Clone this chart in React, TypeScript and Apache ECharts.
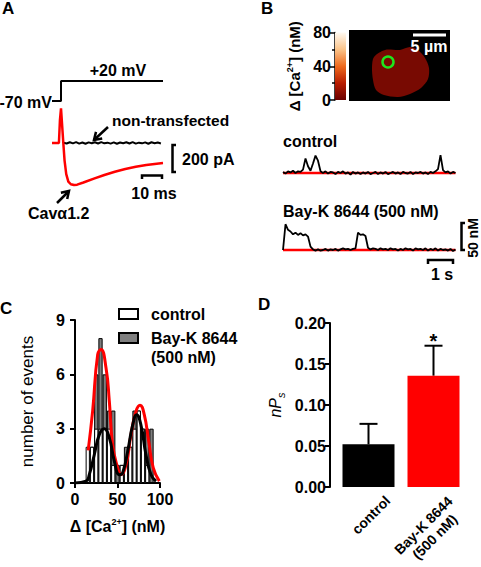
import React, { useEffect, useRef } from 'react';
import * as echarts from 'echarts';

const FONT = 'Liberation Sans';

// ---------- Panel A : voltage step and currents ----------
const voltTimes = [0, 4.3, 4.3, 53];
const voltValues = [-70, -70, 20, 20];
const cavTimes = [0, 3.3, 3.8, 4.3, 4.8, 5.4, 6.0, 6.8, 7.8, 9.0, 10.5, 12, 15, 20, 25, 30, 35, 40, 45, 50, 53];
const cavCurrent = [0, 0, 170, 255, 140, 0, -130, -230, -285, -305, -311, -308, -292, -263, -237, -213, -193, -176, -163, -153, -148];
const nonTransTimes = [5.5, 7, 8.5, 10, 11.5, 13, 14.5, 16, 17.5, 19, 20.5, 22, 23.5, 25, 26.5, 28, 29.5, 31, 32.5, 34, 35.5, 37, 38.5, 40, 41.5, 43, 44.5, 46, 47.5, 49, 50.5, 52];
const nonTransCurrent = [2, -4, 5, -3, 6, -5, 3, -6, 4, -2, 5, -4, 6, -3, 2, -5, 4, -6, 3, -2, 5, -4, 6, -5, 2, -3, 4, -6, 5, -2, 3, -4];

// ---------- Panel B : Ca2+ traces (nM), 0.1 s sampling ----------
const traceStep = 0.1;
const controlTrace = [2, -1, 3, 1, 4, 0, 3, 2, 6, 26, 12, 4, 17, 31, 22, 3, 0, 3, -1, 2, 1, -2, 2, 0, 3, -1, 1, -3, 2, -1, 1, -2, 1, -1, 2, -2, 0, 2, -2, 1, -1, 2, -2, 0, 2, -1, 1, -2, 2, 0, -1, 2, -2, 1, 0, 2, -1, 1, -2, 2, 0, 3, 7, 32, 5, 1, 3, -1, 2, 0];
const baykTrace = [0, 46, 36, 33, 28, 31, 27, 30, 26, 28, 24, 6, 1, -1, 1, -1, 0, 2, -1, 1, 0, 2, -1, 1, 3, 1, 2, 0, 2, 3, 31, 27, 28, 25, 4, 1, 3, 2, 0, 3, 1, 2, 0, 3, 1, 2, -1, 2, 0, 3, 1, 2, -1, 3, 1, 2, 0, 3, -1, 2, 0, 3, -1, 2, 0, 1, -1, 2, -2, 1];
const colorbarMax = 80;

// ---------- Panel C : amplitude histogram ----------
const binCenters = [15, 20, 25, 30, 35, 40, 45, 50, 55, 60, 65, 70, 75, 80, 85, 90, 95];
const controlCounts = [2, 2, 3, 3, 3, 3, 1, 0, 1, 1, 2, 3, 4, 3, 1, 0, 0];
const baykCounts = [0, 2, 6, 8, 6, 4, 4, 1, 1, 2, 2, 4, 4, 3, 3, 3, 0];
const baykFitX = [15.5, 20.8, 26.7, 30.6, 36.5, 40.4, 44.3, 50.2, 54.1, 60, 65.9, 71.8, 76.5, 81.5, 86.7, 92.1, 99.2];
const baykFitY = [1.8, 4.0, 7.1, 7.37, 6.35, 4.5, 2.1, 0.83, 0.46, 1.0, 2.67, 3.96, 4.29, 3.77, 2.3, 0.83, 0.1];
const controlFitX = [0, 13, 16.8, 22.7, 28.6, 34.5, 40.4, 46.3, 52.2, 56, 62, 67.8, 72.5, 77.6, 83.5, 89.4, 95.3];
const controlFitY = [0, 0.1, 0.46, 1.56, 2.67, 3.0, 2.49, 1.2, 0.46, 0.55, 1.75, 3.2, 3.77, 3.2, 1.56, 0.46, 0.1];

// ---------- Panel D : nPs ----------
const groups = ['control', 'Bay-K 8644\n(500 nM)'];
const nPsMean = [0.052, 0.1357];
const nPsSem = [0.025, 0.0366];
const significance = ['', '*'];
const barColors = ['#000000', '#ff0000'];

const txt = (text: string, x: number, y: number, extra: any = {}) => ({
  type: 'text',
  x,
  y,
  rotation: extra.rotation || 0,
  style: {
    text,
    fill: extra.fill || '#000',
    fontFamily: FONT,
    fontSize: extra.fontSize || 16,
    fontWeight: extra.fontWeight || 'bold',
    align: extra.align || 'left',
    verticalAlign: 'middle',
    lineHeight: extra.lineHeight,
  },
});

const pl = (points: number[][], stroke = '#000', lineWidth = 2) => ({
  type: 'polyline',
  shape: { points },
  style: { stroke, lineWidth, fill: 'none' },
});

const App: React.FC = () => {
  const ref = useRef<HTMLDivElement>(null);

  useEffect(() => {
    if (!ref.current) return;
    const chart = echarts.init(ref.current, undefined, { renderer: 'svg' });

    const hidden = (gridIndex: number, min: number, max: number) => ({
      gridIndex, type: 'value', min, max, show: false,
    });
    const axisLineStyle = { show: true, lineStyle: { color: '#000', width: 2 } };
    const tickStyle = { show: true, length: 5, lineStyle: { color: '#000', width: 2 } };
    const labelStyle = { color: '#000', fontFamily: FONT, fontWeight: 'bold', fontSize: 16 };
    const supRich = {
      sup: { fontSize: 9, fontWeight: 'bold', fontFamily: FONT, verticalAlign: 'top', lineHeight: 18, color: '#000' },
    };

    const option: any = {
      animation: false,
      backgroundColor: '#fff',
      textStyle: { fontFamily: FONT },
      grid: [
        { left: 52, top: 81, width: 111, height: 20 },
        { left: 52, top: 105, width: 111, height: 84 },
        { left: 335, top: 32.5, width: 11, height: 67.5 },
        { left: 283, top: 150, width: 173, height: 30 },
        { left: 283, top: 220, width: 173, height: 37 },
        { left: 75, top: 320, width: 85, height: 163 },
        { left: 336, top: 323, width: 130, height: 164 },
      ],
      xAxis: [
        hidden(0, 0, 53),
        hidden(1, 0, 53),
        { gridIndex: 2, type: 'category', data: ['scale'], show: false },
        hidden(3, 0, 6.92),
        hidden(4, 0, 6.92),
        {
          gridIndex: 5, type: 'value', min: 0, max: 100, interval: 50,
          axisLine: axisLineStyle, axisTick: tickStyle, splitLine: { show: false },
          axisLabel: { ...labelStyle, margin: 8 },
          name: 'Δ [Ca{sup|2+}] (nM)', nameLocation: 'middle', nameGap: 34,
          nameTextStyle: { ...labelStyle, rich: supRich },
        },
        {
          gridIndex: 6, type: 'category', data: groups,
          axisLine: { show: false }, axisTick: { show: false }, axisLabel: { show: false },
        },
      ],
      yAxis: [
        hidden(0, -70, 20),
        hidden(1, -340, 280),
        {
          gridIndex: 2, type: 'value', min: 0, max: colorbarMax, interval: 40,
          axisLine: { show: true, lineStyle: { color: '#000', width: 1.5 } },
          axisTick: { show: true, length: 5, lineStyle: { color: '#000', width: 1.5 } },
          minorTick: { show: true, splitNumber: 2, length: 3, lineStyle: { color: '#000', width: 1.5 } },
          splitLine: { show: false },
          axisLabel: { ...labelStyle, margin: 4 },
          name: 'Δ [Ca{sup|2+}] (nM)', nameLocation: 'middle', nameRotate: 90, nameGap: 32,
          nameTextStyle: { ...labelStyle, fontSize: 15, rich: supRich },
        },
        hidden(3, -12.5, 41.07),
        hidden(4, -12.5, 53.57),
        {
          gridIndex: 5, type: 'value', min: 0, max: 9, interval: 3, offset: 7,
          axisLine: axisLineStyle, axisTick: tickStyle, splitLine: { show: false },
          axisLabel: { ...labelStyle, margin: 3 },
          name: 'number of events', nameLocation: 'middle', nameRotate: 90, nameGap: 32,
          nameTextStyle: { color: '#000', fontFamily: FONT, fontSize: 17 },
        },
        {
          gridIndex: 6, type: 'value', min: 0, max: 0.2, interval: 0.05, offset: 6,
          axisLine: axisLineStyle, axisTick: tickStyle, splitLine: { show: false },
          axisLabel: { ...labelStyle, margin: 4, formatter: (v: number) => v.toFixed(2) },
          name: '{i|nP}{s|s}', nameLocation: 'middle', nameRotate: 90, nameGap: 44,
          nameTextStyle: {
            rich: {
              i: { fontStyle: 'italic', fontSize: 16, fontFamily: FONT, lineHeight: 16, color: '#000' },
              s: { fontStyle: 'italic', fontSize: 11, fontFamily: FONT, verticalAlign: 'bottom', lineHeight: 22, color: '#000' },
            },
          },
        },
      ],
      legend: [
        {
          left: 118, top: 304.5, padding: 0, orient: 'vertical', icon: 'rect',
          itemWidth: 19, itemHeight: 10, data: ['control'],
          itemStyle: { borderColor: '#000', borderWidth: 2 },
          textStyle: { ...labelStyle, lineHeight: 19, padding: [0, 0, 0, 8] },
        },
        {
          left: 118, top: 309.5, padding: 0, orient: 'vertical', icon: 'rect',
          itemWidth: 19, itemHeight: 10, data: ['Bay-K 8644 (500 nM)'],
          itemStyle: { borderColor: '#000', borderWidth: 2 },
          formatter: () => ' \nBay-K 8644\n(500 nM)',
          textStyle: { ...labelStyle, lineHeight: 19, padding: [0, 0, 0, 8] },
        },
      ],
      series: [
        // Panel A
        {
          type: 'line', xAxisIndex: 0, yAxisIndex: 0, showSymbol: false, silent: true,
          data: voltTimes.map((t, i) => [t, voltValues[i]]),
          lineStyle: { color: '#000', width: 2 },
        },
        {
          type: 'line', name: 'non-transfected', xAxisIndex: 1, yAxisIndex: 1, showSymbol: false,
          data: nonTransTimes.map((t, i) => [t, nonTransCurrent[i]]),
          lineStyle: { color: '#000', width: 2 },
        },
        {
          type: 'line', name: 'Cavα1.2', xAxisIndex: 1, yAxisIndex: 1, showSymbol: false,
          data: cavTimes.map((t, i) => [t, cavCurrent[i]]),
          lineStyle: { color: '#ff0000', width: 2.5 },
        },
        // Panel B colorbar
        {
          type: 'bar', xAxisIndex: 2, yAxisIndex: 2, barWidth: '100%', data: [colorbarMax],
          itemStyle: {
            color: new echarts.graphic.LinearGradient(0, 0, 0, 1, [
              { offset: 0, color: '#fffaf2' },
              { offset: 0.25, color: '#fbc48a' },
              { offset: 0.5, color: '#ee6a1e' },
              { offset: 0.75, color: '#b81c00' },
              { offset: 1, color: '#6a0000' },
            ]),
          },
        },
        // Panel B traces
        {
          type: 'line', xAxisIndex: 3, yAxisIndex: 3, showSymbol: false,
          data: [[0, 0], [(controlTrace.length - 1) * traceStep, 0]],
          lineStyle: { color: '#ff0000', width: 2.5 },
        },
        {
          type: 'line', name: 'control trace', xAxisIndex: 3, yAxisIndex: 3, showSymbol: false,
          data: controlTrace.map((v, i) => [i * traceStep, v]),
          lineStyle: { color: '#000', width: 1.8 },
        },
        {
          type: 'line', xAxisIndex: 4, yAxisIndex: 4, showSymbol: false,
          data: [[0, 0], [(baykTrace.length - 1) * traceStep, 0]],
          lineStyle: { color: '#ff0000', width: 2.5 },
        },
        {
          type: 'line', name: 'Bay-K trace', xAxisIndex: 4, yAxisIndex: 4, showSymbol: false,
          data: baykTrace.map((v, i) => [i * traceStep, v]),
          lineStyle: { color: '#000', width: 1.8 },
        },
        // Panel C
        {
          type: 'bar', name: 'Bay-K 8644 (500 nM)', xAxisIndex: 5, yAxisIndex: 5,
          barWidth: 4.25, barGap: '-100%',
          data: binCenters.map((c, i) => [c, baykCounts[i]]),
          itemStyle: { color: '#7f7f7f', borderColor: '#000', borderWidth: 1 },
        },
        {
          type: 'bar', name: 'control', xAxisIndex: 5, yAxisIndex: 5,
          barWidth: 4.25, barGap: '-100%',
          data: binCenters.map((c, i) => [c, controlCounts[i]]),
          itemStyle: { color: '#ffffff', borderColor: '#000', borderWidth: 1 },
        },
        {
          type: 'line', name: 'Bay-K fit', xAxisIndex: 5, yAxisIndex: 5, showSymbol: false, smooth: true,
          data: baykFitX.map((x, i) => [x, baykFitY[i]]),
          lineStyle: { color: '#ff0000', width: 3 },
        },
        {
          type: 'line', name: 'control fit', xAxisIndex: 5, yAxisIndex: 5, showSymbol: false, smooth: true,
          data: controlFitX.map((x, i) => [x, controlFitY[i]]),
          lineStyle: { color: '#000', width: 3 },
        },
        // Panel D
        {
          type: 'bar', xAxisIndex: 6, yAxisIndex: 6, barWidth: 52,
          data: nPsMean.map((m, i) => ({ value: m, itemStyle: { color: barColors[i] } })),
        },
        {
          type: 'custom', xAxisIndex: 6, yAxisIndex: 6,
          data: nPsMean.map((m, i) => [i, m, nPsSem[i]]),
          encode: { x: 0, y: 1 },
          renderItem: (params: any, api: any) => {
            const idx = api.value(0);
            const m = api.value(1);
            const e = api.value(2);
            const base = api.coord([idx, m]);
            const top = api.coord([idx, m + e]);
            const hw = 9;
            const children: any[] = [
              { type: 'line', shape: { x1: base[0], y1: base[1], x2: top[0], y2: top[1] }, style: { stroke: '#000', lineWidth: 2 } },
              { type: 'line', shape: { x1: top[0] - hw, y1: top[1], x2: top[0] + hw, y2: top[1] }, style: { stroke: '#000', lineWidth: 2 } },
            ];
            const sig = significance[params.dataIndex];
            if (sig) {
              children.push({
                type: 'text', x: top[0], y: top[1] + 5,
                style: { text: sig, fill: '#000', fontFamily: FONT, fontSize: 20, fontWeight: 'bold', align: 'center', verticalAlign: 'bottom' },
              });
            }
            return { type: 'group', children };
          },
        },
      ],
      graphic: [
        // panel letters
        txt('A', 2, 8.5, { fontSize: 17 }),
        txt('B', 261, 8, { fontSize: 17 }),
        txt('C', 0, 308, { fontSize: 17 }),
        txt('D', 258, 304, { fontSize: 17 }),
        // Panel A annotations
        txt('-70 mV', 52, 102, { align: 'right' }),
        txt('+20 mV', 118, 70, { align: 'center' }),
        txt('non-transfected', 112, 120, { fontSize: 15.5 }),
        { type: 'line', shape: { x1: 108, y1: 127, x2: 94, y2: 140 }, style: { stroke: '#000', lineWidth: 2.5 } },
        pl([[102.2, 138.5], [94, 140], [96, 131.9]], '#000', 2.5),
        pl([[176, 145], [172.5, 145], [172.5, 172], [176, 172]], '#000', 2.5),
        txt('200 pA', 182, 159.5),
        pl([[142, 179], [142, 175.5], [162, 175.5], [162, 179]], '#000', 2.5),
        txt('10 ms', 154, 193, { align: 'center' }),
        { type: 'line', shape: { x1: 57, y1: 203, x2: 69, y2: 191 }, style: { stroke: '#000', lineWidth: 2.5 } },
        pl([[67.2, 199.1], [69, 191], [60.9, 192.8]], '#000', 2.5),
        txt('Cavα1.2', 28, 213),
        // Panel B image
        { type: 'rect', shape: { x: 349, y: 30, width: 101, height: 71 }, style: { fill: '#000' } },
        {
          type: 'polygon',
          shape: {
            points: [[374, 57], [385, 50], [400, 50], [410, 47], [418, 50], [425, 58], [429, 68], [428, 79], [421, 88], [410, 94], [398, 97], [384, 95], [376, 90], [373, 80], [372, 67]],
            smooth: 0.3,
          },
          style: { fill: '#780a02' },
        },
        { type: 'circle', shape: { cx: 388, cy: 62, r: 5.5 }, style: { fill: 'none', stroke: '#1ee61e', lineWidth: 2.5 } },
        { type: 'line', shape: { x1: 413, y1: 35, x2: 446, y2: 35 }, style: { stroke: '#fff', lineWidth: 3 } },
        txt('5 µm', 429, 46, { align: 'center', fill: '#fff' }),
        txt('control', 283, 141),
        txt('Bay-K 8644 (500 nM)', 283, 211),
        pl([[465, 223], [461.5, 223], [461.5, 250], [465, 250]], '#000', 2.5),
        txt('50 nM', 472.5, 238, { align: 'center', rotation: Math.PI / 2, fontSize: 14 }),
        pl([[428, 264], [428, 260], [453, 260], [453, 264]], '#000', 2.5),
        txt('1 s', 442, 274, { align: 'center' }),
        // Panel D category labels
        txt(groups[0], 371, 515, { align: 'center', rotation: Math.PI / 4, fontSize: 14 }),
        txt(groups[1], 429, 531, { align: 'center', rotation: Math.PI / 4, fontSize: 14, lineHeight: 16 }),
      ],
    };

    chart.setOption(option);
    return () => chart.dispose();
  }, []);

  return (
    <div
      ref={ref}
      style={{ position: 'fixed', left: 0, top: 0, width: 481, height: 567, background: '#fff' }}
    />
  );
};

export default App;
